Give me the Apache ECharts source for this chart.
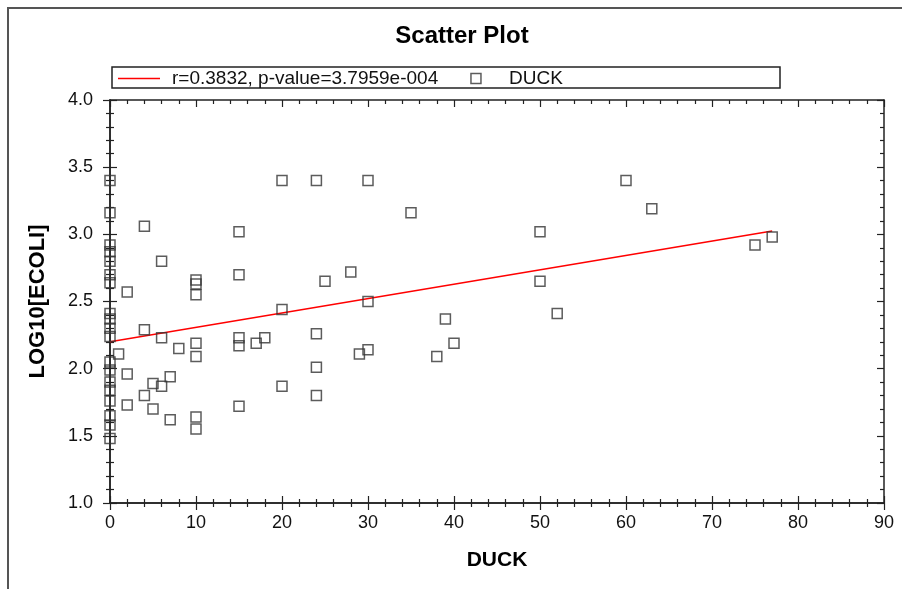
<!DOCTYPE html>
<html>
<head>
<meta charset="utf-8">
<script src="https://cdn.jsdelivr.net/npm/echarts@6/dist/echarts.min.js"></script>
<style>html,body{margin:0;padding:0;background:#fff}#c{width:902px;height:589px}</style>
</head>
<body>
<div id="c"></div>
<script>
// ---- data ----
var duck = [
  0,0,0,0,0,0,0,0,0,0,0,0,0,0,0,0,0,0,0,
  1,
  2,2,2,
  4,4,4,
  5,5,
  6,6,6,
  7,7,
  8,
  10,10,10,10,10,10,10,
  15,15,15,15,15,
  17,18,
  20,20,20,
  24,24,24,24,
  25,28,29,
  30,30,30,
  35,38,39,40,
  50,50,52,
  60,63,75,77
];
var ecoli = [
  3.40,3.16,2.92,2.87,2.80,2.70,2.64,2.41,2.37,2.30,2.24,2.05,1.99,1.90,1.84,1.76,1.65,1.58,1.48,
  2.11,
  2.57,1.96,1.73,
  3.06,2.29,1.80,
  1.89,1.70,
  2.80,2.23,1.87,
  1.94,1.62,
  2.15,
  2.66,2.63,2.55,2.19,2.09,1.64,1.55,
  3.02,2.70,2.23,2.17,1.72,
  2.19,2.23,
  3.40,2.44,1.87,
  3.40,2.26,2.01,1.80,
  2.65,2.72,2.11,
  3.40,2.50,2.14,
  3.16,2.09,2.37,2.19,
  3.02,2.65,2.41,
  3.40,3.19,2.92,2.98
];
var fitX = [0, 77];
var fitY = [2.20, 3.025];
var fitName = 'r=0.3832, p-value=3.7959e-004';
var seriesName = 'DUCK';
var titleText = 'Scatter Plot';
var xName = 'DUCK';
var yName = 'LOG10[ECOLI]';

// ---- chart ----
var chart = echarts.init(document.getElementById('c'), null, {renderer: 'canvas'});
var pts = duck.map(function (d, i) { return [d, ecoli[i]]; });
var fitPts = fitX.map(function (d, i) { return [d, fitY[i]]; });
var FONT = 'Liberation Sans, Arial, sans-serif';
var AX = '#222';

function xAx(pos, inside, labels, extra) {
  var o = {
    type: 'value', min: 0, max: 90, interval: 10, position: pos,
    axisLine: {show: true, onZero: false, lineStyle: {color: AX, width: 1.5}},
    axisTick: {show: true, inside: inside, length: 7, lineStyle: {color: AX, width: 1.2}},
    minorTick: {show: true, splitNumber: 5, length: 4, lineStyle: {color: AX, width: 1.2}},
    splitLine: {show: false}, minorSplitLine: {show: false},
    axisLabel: {show: labels, margin: 11, color: '#111', fontFamily: FONT, fontSize: 18}
  };
  return Object.assign(o, extra || {});
}
function yAx(pos, inside, labels, extra) {
  var o = {
    type: 'value', min: 1, max: 4, interval: 0.5, position: pos,
    axisLine: {show: true, onZero: false, lineStyle: {color: AX, width: 1.5}},
    axisTick: {show: true, inside: inside, length: 7, lineStyle: {color: AX, width: 1.2}},
    minorTick: {show: true, splitNumber: 5, length: 4, lineStyle: {color: AX, width: 1.2}},
    splitLine: {show: false}, minorSplitLine: {show: false},
    axisLabel: {show: labels, margin: 17, color: '#111', fontFamily: FONT, fontSize: 18,
      formatter: function (v) { return v.toFixed(1); }}
  };
  return Object.assign(o, extra || {});
}

chart.setOption({
  animation: false,
  backgroundColor: '#fff',
  grid: {left: 110, right: 18, top: 100, bottom: 86, containLabel: false},
  graphic: [
    {type: 'rect', z: -10, shape: {x: 8, y: 8, width: 1200, height: 1200},
     style: {fill: 'none', stroke: '#555', lineWidth: 2}},
    {type: 'text', x: 462, y: 36, style: {text: titleText, fill: '#000', font: 'bold 24px ' + FONT,
      textAlign: 'center', textVerticalAlign: 'middle'}},
    {type: 'rect', shape: {x: 112, y: 67, width: 668, height: 21},
     style: {fill: '#fff', stroke: '#222', lineWidth: 1.5}, z: 0}
  ],
  legend: {
    left: 118, top: 67, padding: [2, 0, 2, 0], itemGap: 32,
    itemWidth: 42, itemHeight: 10,
    textStyle: {fontFamily: FONT, fontSize: 19, color: '#111', padding: [0, 0, 0, 7]},
    data: [
      {name: fitName, icon: 'path://M0 0H42V1.5H0Z', itemStyle: {color: '#ff0000', borderWidth: 0}},
      {name: seriesName, icon: 'path://M0 0H10V10H0Z',
       itemStyle: {color: 'transparent', borderColor: '#333', borderWidth: 1.5}}
    ],
    z: 5
  },
  xAxis: [
    xAx('bottom', true, true, {name: xName, nameLocation: 'middle', nameGap: 47,
      nameTextStyle: {fontFamily: FONT, fontSize: 21, fontWeight: 'bold', color: '#000'}}),
    xAx('bottom', false, false),
    xAx('top', true, false)
  ],
  yAxis: [
    yAx('left', true, true, {name: yName, nameLocation: 'middle', nameGap: 61, nameRotate: 90,
      nameTextStyle: {fontFamily: FONT, fontSize: 22, fontWeight: 'bold', color: '#000'}}),
    yAx('left', false, false),
    yAx('right', true, false)
  ],
  series: [
    {name: fitName, type: 'line', data: fitPts, xAxisIndex: 0, yAxisIndex: 0,
     symbol: 'none', lineStyle: {color: '#ff0000', width: 1.5}, itemStyle: {color: '#ff0000'}, z: 3},
    {name: seriesName, type: 'scatter', data: pts, xAxisIndex: 0, yAxisIndex: 0,
     symbol: 'rect', symbolSize: 10,
     itemStyle: {color: 'transparent', borderColor: '#333', borderWidth: 1.5}, z: 4}
  ]
});
</script>
</body>
</html>
